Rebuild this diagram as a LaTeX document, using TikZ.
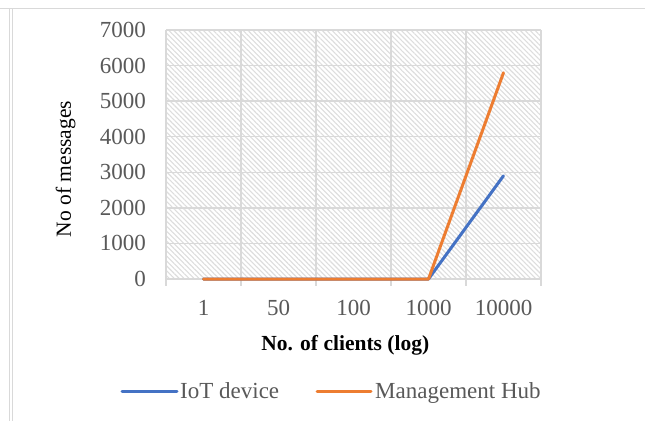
\documentclass[tikz,border=0pt]{standalone}
\usepackage{fontspec}
\setmainfont{Liberation Serif}
\usetikzlibrary{patterns.meta}
\definecolor{gridgray}{HTML}{D9D9D9}
\definecolor{hatchgray}{HTML}{DDDDDD}
\definecolor{ticktext}{HTML}{595959}
\definecolor{iotblue}{HTML}{4472C4}
\definecolor{huborange}{HTML}{ED7D31}
\begin{document}
\begin{tikzpicture}[x=1pt,y=-1pt,
  gridline/.style={draw=gridgray,line width=1.3pt},
  ticklabel/.style={text=ticktext,font=\fontsize{23}{23}\selectfont,inner sep=0pt},
  axistitle/.style={font=\fontsize{21.5}{21.5}\selectfont,inner sep=0pt},
  legendtext/.style={text=ticktext,font=\fontsize{23}{23}\selectfont,inner sep=0pt,anchor=base west},
  series/.style={line width=3pt,line cap=round,line join=round},
]
\useasboundingbox (0,0) rectangle (645,421);
\fill[white] (0,0) rectangle (645,421);

% page frame
\draw[gridgray,line width=1.2pt] (0,8.5) -- (645,8.5);
\draw[gridgray,line width=1pt] (9,9) -- (9,421);
\draw[gridgray,line width=1pt] (12.5,9) -- (12.5,421);

% plot area with hatch fill
\fill[pattern={Lines[angle=-45,distance=3.5pt,line width=1.1pt]},pattern color=hatchgray]
  (166,30) rectangle (541,279);

% horizontal gridlines and value labels
\foreach \k in {0,...,7}{
  \pgfmathsetmacro{\yy}{279-\k*35.571}
  \draw[gridline] (166,\yy) -- (541,\yy);
  \pgfmathtruncatemacro{\val}{\k*1000}
  \node[ticklabel,anchor=east] (ylab\k) at (146,\yy) {\val};
}
% vertical gridlines with tick marks below the axis
\foreach \i in {0,...,5}{
  \draw[gridline] (166+75*\i,30) -- (166+75*\i,286);
}

% category labels
\foreach \lab [count=\i from 0] in {1,50,100,1000,10000}{
  \node[ticklabel] (xlab\i) at (203.5+75*\i,308.3) {\lab};
}

% axis titles
\node[axistitle,rotate=90] (ytitle) at (65.7,169) {No of messages};
\node[axistitle,anchor=base,font=\fontsize{21.5}{21.5}\selectfont\bfseries] (xtitle) at (345.3,350) {No. of clients (log)};

% data points
\foreach \i in {0,...,3}{
  \coordinate (b\i) at (203.5+75*\i,279);
  \coordinate (o\i) at (203.5+75*\i,279);
}
\coordinate (b4) at (503.5,175.8);
\coordinate (o4) at (503.5,72.7);

% series
\draw[series,iotblue] (b0) -- (b1) -- (b2) -- (b3) -- (b4);
\draw[series,huborange] (o0) -- (o1) -- (o2) -- (o3) -- (o4);

% legend
\coordinate (lgA1) at (122,391);
\coordinate (lgA2) at (177,391);
\draw[series,iotblue] (lgA1) -- (lgA2);
\node[legendtext] (lgAtext) at (180,398) {IoT device};
\coordinate (lgB1) at (317,391);
\coordinate (lgB2) at (371,391);
\draw[series,huborange] (lgB1) -- (lgB2);
\node[legendtext] (lgBtext) at (375,398) {Management Hub};
\end{tikzpicture}
\end{document}
